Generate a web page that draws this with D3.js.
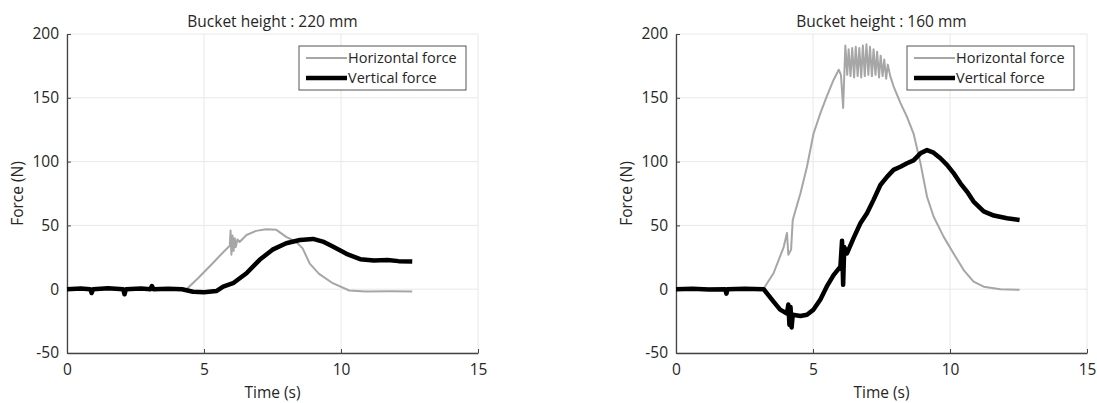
<!DOCTYPE html>
<html>
<head>
<meta charset="utf-8">
<script src="https://cdn.jsdelivr.net/npm/d3@7"></script>
<style>
  body { margin: 0; background: #fff; }
  text { font-family: "Open Sans", "Noto Sans", sans-serif; fill: #262626; }
</style>
</head>
<body>
<div id="canvas"></div>
<script>
"use strict"

/* Data: [time (s), force (N)] */
let xTicks = [0, 5, 10, 15];
let yTicks = [-50, 0, 50, 100, 150, 200];
let seriesNames = ["Horizontal force", "Vertical force"];
let titles = ["Bucket height : 220 mm", "Bucket height : 160 mm"];

let leftHorizontal = [
    [0, 0], [1, 0.3], [2, -0.2], [3, 0.2], [4, 0], [4.36, 0],
    [4.8, 9], [5.3, 20], [5.7, 29], [5.94, 34], [5.97, 46], [6.0, 27],
    [6.04, 42], [6.08, 30], [6.12, 40], [6.16, 33], [6.22, 39], [6.3, 37],
    [6.55, 42.5], [6.9, 45.7], [7.27, 47], [7.64, 46.5], [8.0, 41],
    [8.37, 37], [8.6, 32], [8.86, 20], [9.2, 12], [9.7, 4.7], [10.3, -1],
    [10.9, -1.8], [11.8, -1.6], [12.6, -1.8]
];

let leftVertical = [
    [0, 0], [0.5, 0.5], [0.85, 0], [0.9, -3], [0.95, 0], [1.5, 0.8],
    [2.05, 0], [2.1, -4], [2.15, 0], [2.7, 0.5], [3.05, 0], [3.1, 2.5],
    [3.15, 0], [3.7, 0.4], [4.2, 0], [4.6, -2], [5.0, -2.3], [5.45, -1.5],
    [5.7, 2], [6.06, 4.7], [6.55, 12.5], [7.03, 23], [7.5, 31], [8.0, 36],
    [8.5, 38.6], [8.98, 39.4], [9.34, 37.3], [9.7, 33.4], [10.2, 27.7],
    [10.7, 23.5], [11.2, 22.5], [11.7, 22.8], [12.1, 22], [12.6, 21.7]
];

let rightHorizontal = [
    [0, 0.5], [1, 0.6], [2, 0.5], [3, 0.5], [3.2, 0.5], [3.56, 12.5],
    [3.93, 33], [4.05, 44], [4.1, 27], [4.2, 31], [4.26, 54], [4.33, 59.5],
    [4.54, 75], [4.78, 96], [5.02, 122], [5.27, 138], [5.5, 151], [5.75, 164],
    [5.94, 172], [6.02, 168], [6.1, 142], [6.18, 191], [6.25, 168],
    [6.3, 188], [6.37, 167], [6.43, 189], [6.5, 166], [6.56, 190],
    [6.63, 167], [6.69, 189], [6.76, 166], [6.82, 191], [6.89, 167],
    [6.95, 192], [7.02, 168], [7.08, 190], [7.15, 167], [7.21, 188],
    [7.28, 168], [7.34, 186], [7.41, 166], [7.47, 183], [7.54, 167],
    [7.6, 180], [7.67, 165], [7.73, 176], [7.82, 167], [7.94, 159],
    [8.19, 146], [8.43, 135], [8.67, 122], [8.92, 99], [9.16, 72.6],
    [9.4, 57], [9.77, 41], [10.13, 28], [10.5, 15], [10.86, 6], [11.23, 2],
    [11.84, 0], [12.54, -0.5]
];

let rightVertical = [
    [0, 0], [0.6, 0.4], [1.2, -0.3], [1.8, 0], [1.84, -3.5], [1.88, 0],
    [2.5, 0.4], [3.2, 0], [3.56, -9.7], [3.8, -16], [4.05, -19], [4.1, -12],
    [4.14, -28], [4.18, -14], [4.22, -30], [4.26, -20], [4.54, -21],
    [4.78, -20], [5.02, -16], [5.27, -8], [5.5, 2], [5.75, 11], [6.0, 17.7],
    [6.06, 38], [6.1, 3.4], [6.14, 33], [6.24, 28], [6.48, 40], [6.73, 51.7],
    [6.97, 59.5], [7.21, 70], [7.46, 81.7], [7.7, 88], [7.94, 93.5],
    [8.19, 96], [8.43, 98.7], [8.67, 101], [8.92, 106.5], [9.16, 109],
    [9.4, 107], [9.65, 102.6], [9.89, 97.4], [10.13, 91], [10.38, 83],
    [10.62, 76.5], [10.86, 68.7], [11.23, 61], [11.6, 57.7], [12.08, 55.6],
    [12.54, 54.3]
];

/* Drawing configuration */
let svgWidth = 1097;
let svgHeight = 403;
let plotTop = 34;
let plotBottom = 353;
let panels = [
    { left: 67, right: 478, title: titles[0], horizontal: leftHorizontal, vertical: leftVertical, legendX: 299 },
    { left: 676, right: 1087, title: titles[1], horizontal: rightHorizontal, vertical: rightVertical, legendX: 907 }
];

let svg = d3.select("#canvas")
    .append("svg")
    .attr("width", svgWidth)
    .attr("height", svgHeight);

panels.forEach(function (panel) {
    let x = d3.scaleLinear().domain([0, 15]).range([panel.left, panel.right]);
    let y = d3.scaleLinear().domain([-50, 200]).range([plotBottom, plotTop]);
    let g = svg.append("g");

    /* grid lines */
    g.selectAll(".gx").data(xTicks).join("line")
        .attr("x1", d => x(d)).attr("x2", d => x(d))
        .attr("y1", plotTop).attr("y2", plotBottom)
        .attr("stroke", "#e8e8e8");
    g.selectAll(".gy").data(yTicks).join("line")
        .attr("x1", panel.left).attr("x2", panel.right)
        .attr("y1", d => y(d)).attr("y2", d => y(d))
        .attr("stroke", "#e8e8e8");

    /* axes */
    let xAxis = g.append("g")
        .attr("transform", "translate(0," + plotBottom + ")")
        .call(d3.axisBottom(x).tickValues(xTicks).tickFormat(d => String(d))
            .tickSizeInner(-4).tickSizeOuter(0).tickPadding(11));
    let yAxis = g.append("g")
        .attr("transform", "translate(" + panel.left + ",0)")
        .call(d3.axisLeft(y).tickValues(yTicks).tickFormat(d => String(d))
            .tickSizeInner(-4).tickSizeOuter(0).tickPadding(8));
    [xAxis, yAxis].forEach(function (a) {
        a.select(".domain").attr("stroke", "#444").attr("stroke-width", 1.3);
        a.selectAll(".tick line").attr("stroke", "#444");
        a.selectAll(".tick text").attr("font-size", 15.5).attr("fill", "#2a2a2a")
            .attr("font-family", "'Open Sans', 'Noto Sans', sans-serif");
    });

    /* lines */
    let line = d3.line().x(d => x(d[0])).y(d => y(d[1]));
    g.append("path").datum(panel.horizontal)
        .attr("d", line).attr("fill", "none")
        .attr("stroke", "#a6a6a6").attr("stroke-width", 2)
        .attr("stroke-linejoin", "round");
    g.append("path").datum(panel.vertical)
        .attr("d", line).attr("fill", "none")
        .attr("stroke", "#000").attr("stroke-width", 4.5)
        .attr("stroke-linejoin", "round");

    /* title and labels */
    g.append("text")
        .attr("x", (panel.left + panel.right) / 2).attr("y", 27)
        .attr("text-anchor", "middle").attr("font-size", 15.5)
        .text(panel.title);
    g.append("text")
        .attr("x", (panel.left + panel.right) / 2).attr("y", 398)
        .attr("text-anchor", "middle").attr("font-size", 15.5)
        .text("Time (s)");
    g.append("text")
        .attr("transform", "translate(" + (panel.left - 44) + "," + ((plotTop + plotBottom) / 2) + ") rotate(-90)")
        .attr("text-anchor", "middle").attr("font-size", 15.5)
        .text("Force (N)");

    /* legend */
    let legend = g.append("g").attr("transform", "translate(" + panel.legendX + ",46)");
    legend.append("rect")
        .attr("width", 167).attr("height", 44)
        .attr("fill", "#fff").attr("stroke", "#555").attr("stroke-width", 1);
    let styles = [{ color: "#a6a6a6", width: 2 }, { color: "#000", width: 4.5 }];
    seriesNames.forEach(function (name, i) {
        legend.append("line")
            .attr("x1", 7).attr("x2", 48)
            .attr("y1", 12 + i * 20).attr("y2", 12 + i * 20)
            .attr("stroke", styles[i].color).attr("stroke-width", styles[i].width);
        legend.append("text")
            .attr("x", 49).attr("y", 17 + i * 20)
            .attr("font-size", 14.5)
            .text(name);
    });
});
</script>
</body>
</html>
